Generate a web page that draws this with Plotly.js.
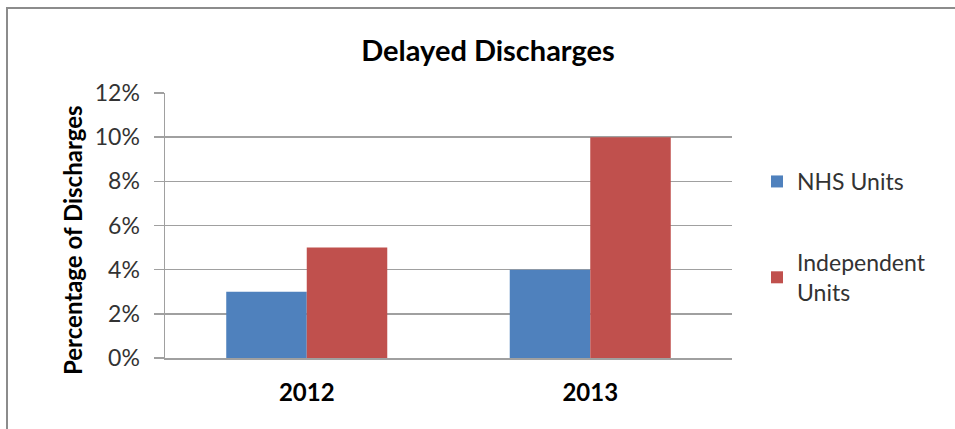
<!DOCTYPE html>
<html>
<head>
<meta charset="utf-8">
<script src="https://cdn.plot.ly/plotly-3.0.1.min.js"></script>
<style>
  html, body { margin: 0; padding: 0; background: #ffffff; }
  #chart { width: 955px; height: 429px; }
</style>
</head>
<body>
<div id="chart"></div>
<script>
// Delayed discharges as a share of all discharges, by unit type
const years = ['2012', '2013'];
const nhsUnits = [0.03, 0.04];
const independentUnits = [0.05, 0.10];
const seriesNames = ['NHS Units', 'Independent<br>Units'];
const seriesColors = ['#4F81BD', '#C0504D'];
const chartTitle = 'Delayed Discharges';
const yTitle = 'Percentage of Discharges';

const FONT = 'Lato, "Open Sans", sans-serif';
const GRID = '#a0a0a0';

const traces = [
  {
    type: 'bar', x: years, y: nhsUnits, name: seriesNames[0],
    marker: { color: seriesColors[0] }, legendgroup: 'a',
    hoverinfo: 'skip'
  },
  {
    type: 'bar', x: years, y: independentUnits, name: seriesNames[1],
    marker: { color: seriesColors[1] }, legendgroup: 'b',
    hoverinfo: 'skip'
  }
];

// plot area runs 165..732 px horizontally, 93..358 px vertically
const L = 165, R = 732, T = 93, B = 358;
const px2x = p => (p - L) / (R - L);
const px2y = p => (B - p) / (B - T);

const layout = {
  width: 955, height: 429,
  margin: { l: L, r: 955 - R, t: T, b: 429 - B, pad: 0 },
  paper_bgcolor: '#ffffff', plot_bgcolor: '#ffffff',
  font: { family: FONT, size: 23, color: '#333333' },
  title: {
    text: '<b>' + chartTitle + '</b>',
    font: { family: FONT, size: 29, color: '#000000' },
    x: 488 / 955, xanchor: 'center', xref: 'container',
    y: 1 - 51 / 429, yanchor: 'middle', yref: 'container'
  },
  barmode: 'group', bargap: 0.432, bargroupgap: 0,
  xaxis: {
    type: 'category',
    showline: true, linecolor: GRID, linewidth: 1.5,
    ticks: '', showgrid: false, zeroline: false,
    tickfont: { family: FONT, size: 24, color: '#000000', weight: 'bold' },
    ticklabelstandoff: 13, fixedrange: true
  },
  yaxis: {
    range: [0, 0.12], dtick: 0.02, tick0: 0, tickformat: '.0%',
    showline: true, linecolor: GRID, linewidth: 1.5,
    ticks: 'outside', ticklen: 10, tickcolor: GRID, tickwidth: 1.5,
    showgrid: true, gridcolor: GRID, gridwidth: 1.5, zeroline: false,
    tickfont: { family: FONT, size: 23, color: '#333333' },
    ticklabelstandoff: 9,
    fixedrange: true
  },
  // vertical axis caption, set a little below the axis midpoint
  annotations: [
    {
      text: '<b>' + yTitle + '</b>',
      xref: 'paper', yref: 'paper',
      x: px2x(72), y: px2y(240),
      xanchor: 'center', yanchor: 'middle',
      textangle: -90, showarrow: false,
      font: { family: FONT, size: 24, color: '#000000' }
    }
  ],
  showlegend: true,
  legend: {
    x: px2x(757), xanchor: 'left',
    y: px2y(160), yanchor: 'top',
    traceorder: 'grouped', tracegroupgap: 48,
    font: { family: FONT, size: 23, color: '#333333' },
    bgcolor: 'rgba(0,0,0,0)'
  },
  shapes: [
    {
      type: 'rect', xref: 'paper', yref: 'paper',
      x0: px2x(7), x1: px2x(962), y0: px2y(436), y1: px2y(8),
      line: { color: '#8c8c8c', width: 2 }, fillcolor: 'rgba(0,0,0,0)',
      layer: 'below'
    }
  ]
};

Plotly.newPlot('chart', traces, layout, { displayModeBar: false, staticPlot: true });
</script>
</body>
</html>
